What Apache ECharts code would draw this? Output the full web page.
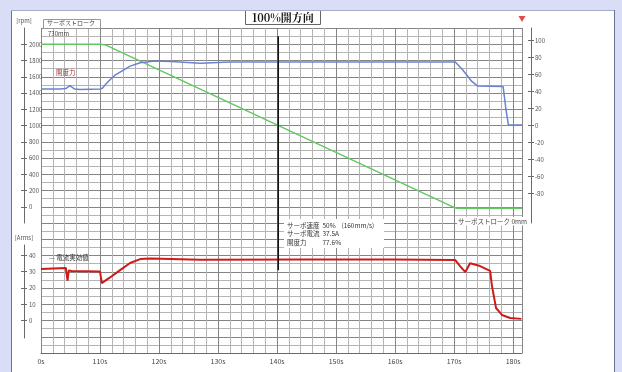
<!DOCTYPE html>
<html><head><meta charset="utf-8">
<script src="https://cdn.jsdelivr.net/npm/echarts@6/dist/echarts.min.js"></script>
<style>html,body{margin:0;padding:0;background:#fff;}#c{width:622px;height:372px;}</style>
</head><body><div id="c"></div>
<script>
// ---- data ----
const titleText = '100%開方向';
const xTickValues = [100,110,120,130,140,150,160,170,180];
const xTickLabels = ['0s','110s','120s','130s','140s','150s','160s','170s','180s'];
const upperLeftTicks = [0,200,400,600,800,1000,1200,1400,1600,1800,2000];
const rightTicks = [-80,-60,-40,-20,0,20,40,60,80,100];
const lowerLeftTicks = [0,10,20,30,40];

// green: servo stroke (upper, left axis)
const strokeTime  = [100, 110, 111, 112, 169.6, 170.4, 181.5];
const strokeValue = [2000, 2000, 1990, 1955, 5, -18, -18];

// blue: opening (upper, right axis)
const openTime  = [100, 103.2, 104.2, 104.9, 105.7, 106.6, 110, 110.4, 111.0, 111.7, 112.5, 113.4, 115.1, 116.8, 119.3, 122, 127, 132, 150, 170.2, 171.4, 172.3, 173, 174, 178.3, 178.8, 179.2, 181.5];
const openValue = [43, 43, 43.5, 47, 43, 42.5, 43, 44, 49, 54, 59, 63, 70, 74, 76, 75.5, 73.5, 75, 75, 75, 66, 58, 52, 46.5, 46, 18, 0.5, 0.5];

// red: current RMS (lower, left axis)
const currentTime  = [100, 104.2, 104.5, 104.7, 105.2, 110, 110.3, 110.5, 111.7, 113.4, 115.1, 116.8, 118.5, 127, 143.9, 160, 170.2, 171.0, 171.9, 172.7, 174.4, 176.1, 176.4, 177.1, 178.1, 179.5, 181.4];
const currentValue = [31.7, 32.3, 24.5, 30.8, 30.5, 30.2, 23, 23.5, 26.5, 31, 35.4, 37.8, 38.2, 37.4, 37.6, 37.6, 37.2, 33.5, 29.8, 35.2, 33.5, 30.5, 21.5, 7.7, 3.4, 1.5, 1.0];

// cursor (background grid units)
const cursorTime  = [140.2, 140.2];
const cursorLevel = [19.5, 5.1];
const markerPoint = [[181.5, 20.55]];

const annotationLines = ['サーボ速度  50%    (160mm/s)', 'サーボ電流  37.5A', '開度力           77.6%'];

// ---- chart ----
const FONT = '"Noto Sans CJK JP", "Noto Sans", sans-serif';
const MAJOR = '#858585', MINOR = '#b4b4b4', AXIS = '#6a6a6a';
const zip = (a, b) => a.map((t, i) => [t, b[i]]);
const XMIN = 100, XMAX = 181.5;
const hiddenX = gi => ({type:'value', gridIndex:gi, min:XMIN, max:XMAX, show:false});

function sideAxis(gi, pos, offset, min, max, ticks, withLabels, name) {
  return {
    type:'value', gridIndex:gi, position:pos, offset:offset, min:min, max:max,
    name: withLabels ? name : '', nameLocation:'end', nameGap:4,
    nameTextStyle:{fontFamily:FONT, fontSize:6, color:'#555', align:'center'},
    axisLine:{show:withLabels, lineStyle:{color:AXIS, width:1}},
    axisTick:{show:true, inside:!withLabels, length:3, lineStyle:{color:AXIS}, customValues:ticks},
    axisLabel:{show:withLabels, inside:pos==='left', margin:pos==='left'?5:4, fontFamily:FONT, fontSize:6, color:'#555',
      customValues:ticks, formatter:v => String(v)},
    splitLine:{show:false}
  };
}

const chart = echarts.init(document.getElementById('c'));
chart.setOption({
  backgroundColor:'#ffffff',
  animation:false,
  title:{text:titleText, left:245, top:10, padding:[2,7], borderColor:'#666', borderWidth:1, backgroundColor:'#fff',
    textStyle:{fontFamily:'"Noto Serif CJK JP", "DejaVu Serif", ' + FONT, fontSize:11, fontWeight:'bold', color:'#111'}},
  grid:[
    {left:41, right:100, top:28, bottom:19},
    {left:41, right:100, top:28, bottom:149},
    {left:41, right:100, top:28, bottom:149},
    {left:41, right:100, top:245, bottom:34}
  ],
  xAxis:[
    {type:'value', gridIndex:0, min:XMIN, max:XMAX, interval:10,
     axisLine:{show:true, lineStyle:{color:AXIS}}, axisTick:{show:false},
     axisLabel:{fontFamily:FONT, fontSize:7, color:'#444', margin:5,
       formatter:v => { const i = xTickValues.indexOf(v); return i >= 0 ? xTickLabels[i] : ''; }},
     splitLine:{show:true, lineStyle:{color:MAJOR, width:1}},
     minorTick:{show:false, splitNumber:5},
     minorSplitLine:{show:true, lineStyle:{color:MINOR, width:1}}},
    hiddenX(1), hiddenX(2), hiddenX(3)
  ],
  yAxis:[
    {type:'value', gridIndex:0, min:0, max:20, interval:1,
     axisLine:{show:false}, axisTick:{show:false}, axisLabel:{show:false},
     splitLine:{show:true, lineStyle:{color:MAJOR, width:1}},
     minorTick:{show:false, splitNumber:2},
     minorSplitLine:{show:true, lineStyle:{color:MINOR, width:1}}},
    sideAxis(1, 'left', 17, -200, 2200, upperLeftTicks, true, '[rpm]'),
    sideAxis(1, 'left', 17, -200, 2200, upperLeftTicks, false, ''),
    sideAxis(2, 'right', 9, -115, 115, rightTicks, true, ''),
    sideAxis(2, 'right', 9, -115, 115, rightTicks, false, ''),
    sideAxis(3, 'left', 17, -10.77, 46.46, lowerLeftTicks, true, '[Arms]'),
    sideAxis(3, 'left', 17, -10.77, 46.46, lowerLeftTicks, false, '')
  ],
  series:[
    {name:'サーボストローク', type:'line', xAxisIndex:1, yAxisIndex:1, data:zip(strokeTime, strokeValue),
     showSymbol:false, symbol:'none', lineStyle:{color:'#62c862', width:1.5}, z:3},
    {name:'開度力', type:'line', xAxisIndex:2, yAxisIndex:3, data:zip(openTime, openValue),
     showSymbol:false, symbol:'none', lineStyle:{color:'#6b82cc', width:1.5}, z:4},
    {name:'電流実効値', type:'line', xAxisIndex:3, yAxisIndex:5, data:zip(currentTime, currentValue),
     showSymbol:false, symbol:'none', lineStyle:{color:'#cf1a1a', width:2}, z:5},
    {name:'cursor', type:'line', xAxisIndex:0, yAxisIndex:0, data:zip(cursorTime, cursorLevel),
     showSymbol:false, symbol:'none', lineStyle:{color:'#111', width:1.5}, z:6},
    {name:'marker', type:'scatter', xAxisIndex:0, yAxisIndex:0, data:markerPoint, clip:false,
     symbol:'triangle', symbolRotate:180, symbolSize:[7,6], itemStyle:{color:'#d42020'}, z:7}
  ],
  graphic:[
    {type:'rect', shape:{x:0, y:0, width:622, height:10}, style:{fill:'#d9ddf5'}, z:100},
    {type:'rect', shape:{x:0, y:0, width:11, height:372}, style:{fill:'#d9ddf5'}, z:100},
    {type:'rect', shape:{x:615, y:0, width:7, height:372}, style:{fill:'#d9ddf5'}, z:100},
    {type:'line', shape:{x1:11.5, y1:10, x2:11.5, y2:372}, style:{stroke:'#6d7290', lineWidth:1}, z:101},
    {type:'line', shape:{x1:11, y1:10.5, x2:615, y2:10.5}, style:{stroke:'#a8acc4', lineWidth:1}, z:101},
    {type:'line', shape:{x1:614.5, y1:10, x2:614.5, y2:372}, style:{stroke:'#6d7290', lineWidth:1}, z:101},
    {type:'rect', shape:{x:43.5, y:19.5, width:57, height:9}, style:{fill:'#fff', stroke:'#999', lineWidth:1}, z:50},
    {type:'text', x:47, y:20, style:{text:'サーボストローク', font:'6px ' + FONT, fill:'#444'}, z:51},
    {type:'text', x:48, y:31, style:{text:'730mm', font:'6px ' + FONT, fill:'#444'}, z:51},
    {type:'text', x:56, y:69, style:{text:'開度力', font:'6.5px ' + FONT, fill:'#a83030'}, z:51},
    {type:'text', x:49, y:254, style:{text:'— 電流実効値', font:'6.5px ' + FONT, fill:'#333'}, z:51},
    {type:'text', x:457, y:217, style:{text:'サーボストローク 0mm', font:'6.5px ' + FONT, fill:'#444', backgroundColor:'#fff', padding:[1,1]}, z:51},
    {type:'rect', shape:{x:284, y:219, width:100, height:29}, style:{fill:'#fff'}, z:50},
    {type:'text', x:287, y:221, style:{text:annotationLines.join('\n'), font:'6.5px ' + FONT, fill:'#333', lineHeight:8.5}, z:51}
  ]
});
</script></body></html>
